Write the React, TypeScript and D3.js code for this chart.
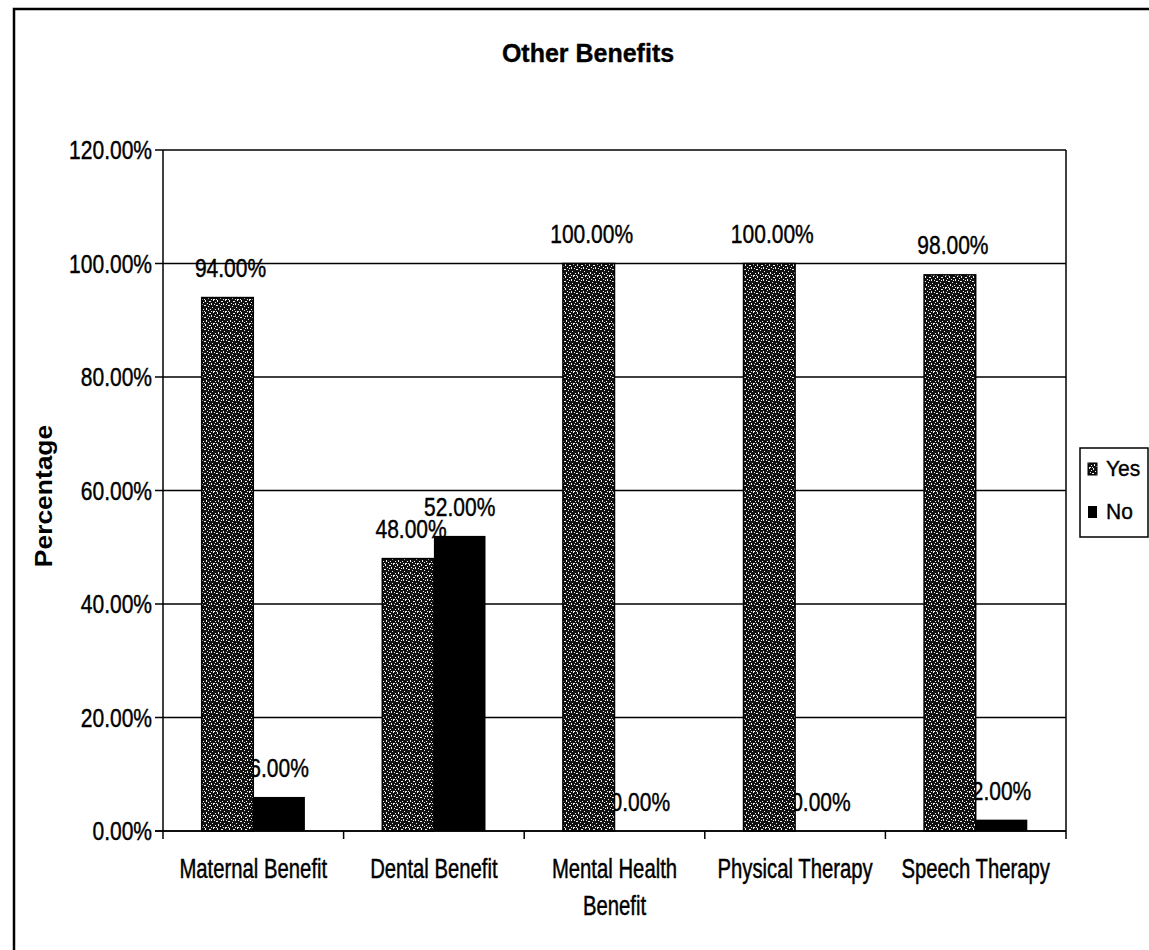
import React from "react";
import * as d3 from "d3";

const categories = ["Maternal Benefit", "Dental Benefit", "Mental Health\nBenefit", "Physical Therapy", "Speech Therapy"];
const seriesNames = ["Yes", "No"];
const yesValues = [0.94, 0.48, 1.0, 1.0, 0.98];
const noValues = [0.06, 0.52, 0.0, 0.0, 0.02];
const yTicks = [0, 0.2, 0.4, 0.6, 0.8, 1.0, 1.2];

const W = 1149;
const H = 950;
const plot = { left: 163, right: 1066, top: 150, bottom: 831 };
const FONT = "'Liberation Sans', Arial, Helvetica, sans-serif";
const fmt = d3.format(".2%");

type STProps = {
  x: number; y: number; size: number; anchor?: string; weight?: string | number;
  sx?: number; sy?: number; dy?: string; children: React.ReactNode;
};
function SText({ x, y, size, anchor = "middle", weight = "normal", sx = 1, sy = 1.22, dy, children }: STProps) {
  return (
    <g transform={`translate(${x},${y}) scale(${sx},${sy})`}>
      <text x={0} y={0} dy={dy} textAnchor={anchor as any} fontSize={size} fontWeight={weight as any}
        fontFamily={FONT} fill="#000" stroke="#000" strokeWidth={0.35}>
        {children}
      </text>
    </g>
  );
}

// texture specks for the stippled "Yes" fill (styling only)
const specks: [number, number, number, number][] = [
  [1, 0, 1, 2], [5, 1, 2, 1], [9, 0, 1, 1], [3, 3, 1, 1], [7, 3, 1, 2], [10, 4, 1, 1],
  [0, 5, 2, 1], [4, 6, 1, 1], [8, 7, 1, 1], [2, 8, 1, 2], [6, 9, 1, 1], [11, 9, 1, 1],
  [0, 11, 1, 1], [4, 10, 1, 1], [9, 11, 2, 1], [5, 4, 1, 1], [11, 2, 1, 1], [7, 11, 1, 1],
];

export default function App() {
  const x0 = d3.scaleBand<string>().domain(categories).range([plot.left, plot.right])
    .paddingInner(1.5 / 3.5).paddingOuter(0.75 / 3.5);
  const x1 = d3.scaleBand<string>().domain(seriesNames).range([0, x0.bandwidth()]);
  const y = d3.scaleLinear().domain([0, 1.2]).range([plot.bottom, plot.top]);
  const step = x0.step();
  const boundaries = d3.range(categories.length + 1).map((i) => plot.left + i * step);

  const barX = (cat: string, s: string) => (x0(cat) as number) + (x1(s) as number);
  const bw = x1.bandwidth();

  return (
    <svg width={W} height={H} style={{ position: "absolute", left: 0, top: 0, background: "#fff" }}>
      <defs>
        <pattern id="stipple" width={12} height={12} patternUnits="userSpaceOnUse">
          <rect width={12} height={12} fill="#111" />
          {specks.map(([a, b, w, h], i) => (
            <rect key={i} x={a} y={b} width={w} height={h} fill="#f0f0f0" />
          ))}
        </pattern>
      </defs>

      {/* outer frame */}
      <rect x={14} y={9} width={W + 20} height={H + 20} fill="#fff" stroke="#000" strokeWidth={2.5} />

      {/* title */}
      <SText x={588} y={62} size={25} weight="bold" sy={1.06}>Other Benefits</SText>

      {/* plot background */}
      <rect x={plot.left} y={plot.top} width={plot.right - plot.left} height={plot.bottom - plot.top} fill="#fff" />

      {/* gridlines */}
      {yTicks.map((t) => (
        <line key={t} x1={plot.left} x2={plot.right} y1={y(t)} y2={y(t)} stroke="#000" strokeWidth={1.5} />
      ))}
      <line x1={plot.right} x2={plot.right} y1={plot.top} y2={plot.bottom} stroke="#000" strokeWidth={1.5} />

      {/* No bars and labels */}
      {categories.map((c, i) => (
        <g key={"no" + i}>
          <rect x={barX(c, "No")} y={y(noValues[i])} width={bw} height={y(0) - y(noValues[i])} fill="#000" />
          <SText x={barX(c, "No") + bw / 2} y={y(noValues[i]) - 20} size={21} sy={1.2}>{fmt(noValues[i])}</SText>
        </g>
      ))}

      {/* Yes bars */}
      {categories.map((c, i) => (
        <rect key={"yes" + i} x={barX(c, "Yes")} y={y(yesValues[i])} width={bw} height={y(0) - y(yesValues[i])}
          fill="url(#stipple)" stroke="#000" strokeWidth={1.5} />
      ))}
      {categories.map((c, i) => (
        <SText key={"yl" + i} x={barX(c, "Yes") + bw / 2 + 3} y={y(yesValues[i]) - 21} size={21} sy={1.2}>{fmt(yesValues[i])}</SText>
      ))}

      {/* axes */}
      <line x1={plot.left} x2={plot.left} y1={plot.top} y2={plot.bottom} stroke="#000" strokeWidth={1.5} />
      <line x1={plot.left - 8} x2={plot.right} y1={plot.bottom} y2={plot.bottom} stroke="#000" strokeWidth={1.5} />
      {yTicks.map((t) => (
        <g key={"yt" + t}>
          <line x1={plot.left - 8} x2={plot.left} y1={y(t)} y2={y(t)} stroke="#000" strokeWidth={1.5} />
          <SText x={plot.left - 11} y={y(t)} size={21} sy={1.25} anchor="end" dy="0.36em">{fmt(t)}</SText>
        </g>
      ))}
      {boundaries.map((bx, i) => (
        <line key={"xt" + i} x1={bx} x2={bx} y1={plot.bottom} y2={plot.bottom + 8} stroke="#000" strokeWidth={1.5} />
      ))}
      {categories.map((c, i) => (
        <g key={"xl" + i}>
          {c.split("\n").map((ln, j) => (
            <SText key={j} x={(x0(c) as number) + x0.bandwidth() / 2} y={878 + j * 37} size={20.3} sy={1.33}>{ln}</SText>
          ))}
        </g>
      ))}

      {/* y-axis title */}
      <g transform={`translate(52,496) rotate(-90) scale(1.1,1)`}>
        <text textAnchor="middle" fontSize={24} fontWeight="bold" fontFamily={FONT}>Percentage</text>
      </g>

      {/* legend */}
      <rect x={1080} y={448} width={68} height={89} fill="#fff" stroke="#000" strokeWidth={1.5} />
      <rect x={1088} y={463} width={9} height={12} fill="url(#stipple)" stroke="#000" strokeWidth={1} />
      <SText x={1106} y={476} size={21} sy={1.05} anchor="start">{seriesNames[0]}</SText>
      <rect x={1088} y={506} width={9} height={12} fill="#000" />
      <SText x={1106} y={519} size={21} sy={1.05} anchor="start">{seriesNames[1]}</SText>
    </svg>
  );
}
